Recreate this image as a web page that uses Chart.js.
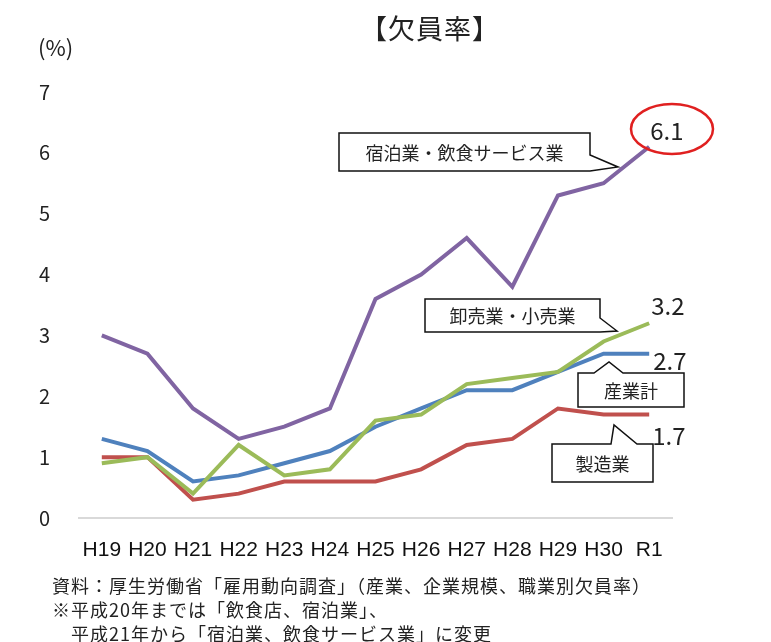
<!DOCTYPE html>
<html>
<head>
<meta charset="utf-8">
<script src="https://cdn.jsdelivr.net/npm/chart.js@4"></script>
<style>
  body { margin: 0; background: #fff; }
  #wrap { position: relative; width: 771px; height: 642px; }
  #c { position: absolute; left: 0; top: 0; }
  .txt { position: absolute; font-family: "Noto Sans CJK JP", sans-serif; color: #222; white-space: nowrap; }
  #title { left: 0; width: 860px; top: 8px; text-align: center; font-size: 27px; letter-spacing: 1px; }
  #unit { left: 38px; top: 30px; font-size: 22px; }
  #note { left: 52px; top: 573px; font-size: 18px; line-height: 24px; letter-spacing: 1px; }
</style>
</head>
<body>
<div id="wrap">
  <canvas id="c" width="771" height="642"></canvas>
  <div class="txt" id="title">【欠員率】</div>
  <div class="txt" id="unit">(%)</div>
  <div class="txt" id="note">資料：厚生労働省「雇用動向調査」（産業、企業規模、職業別欠員率）<br>※平成20年までは「飲食店、宿泊業」、<br>&emsp;平成21年から「宿泊業、飲食サービス業」に変更</div>
</div>
<script>
// 年度
const years = ['H19', 'H20', 'H21', 'H22', 'H23', 'H24', 'H25', 'H26', 'H27', 'H28', 'H29', 'H30', 'R1'];

// 欠員率 (%)
const shukuhaku = [3.0, 2.7, 1.8, 1.3, 1.5, 1.8, 3.6, 4.0, 4.6, 3.8, 5.3, 5.5, 6.1];
const sangyoKei = [1.3, 1.1, 0.6, 0.7, 0.9, 1.1, 1.5, 1.8, 2.1, 2.1, 2.4, 2.7, 2.7];
const oroshiKouri = [0.9, 1.0, 0.4, 1.2, 0.7, 0.8, 1.6, 1.7, 2.2, 2.3, 2.4, 2.9, 3.2];
const seizo = [1.0, 1.0, 0.3, 0.4, 0.6, 0.6, 0.6, 0.8, 1.2, 1.3, 1.8, 1.7, 1.7];

const yTicks = [0, 1, 2, 3, 4, 5, 6, 7];

// 吹き出しを描く
function callout(ctx, box, side, tail, text) {
  const [x0, y0, x1, y1] = box;
  ctx.beginPath();
  ctx.moveTo(x0, y0);
  if (side === 'top') {
    ctx.lineTo(tail[0], y0); ctx.lineTo(tail[1], tail[2]); ctx.lineTo(tail[3], y0);
    ctx.lineTo(x1, y0); ctx.lineTo(x1, y1);
  } else {
    ctx.lineTo(x1, y0);
    ctx.lineTo(x1, tail[0]); ctx.lineTo(tail[1], tail[2]); ctx.lineTo(x1, tail[3]);
    ctx.lineTo(x1, y1);
  }
  ctx.lineTo(x0, y1);
  ctx.closePath();
  ctx.fillStyle = '#fff';
  ctx.fill();
  ctx.strokeStyle = '#111';
  ctx.lineWidth = 1.5;
  ctx.stroke();
  ctx.fillStyle = '#222';
  ctx.font = '18px "Noto Sans CJK JP"';
  ctx.textAlign = 'center';
  ctx.textBaseline = 'middle';
  ctx.fillText(text, (x0 + x1) / 2, (y0 + y1) / 2 + 1);
}

const annotations = {
  id: 'annotations',
  afterDatasetsDraw(chart) {
    const ctx = chart.ctx;
    const xs = chart.scales.x, ys = chart.scales.y;
    const last = years.length - 1;
    const lx = xs.getPixelForValue(last);
    ctx.save();

    callout(ctx, [339, 133, 590, 171], 'right', [155, 618, 167, 171], '宿泊業・飲食サービス業');
    callout(ctx, [425, 299, 600, 332], 'right', [318, 617, 331, 332], '卸売業・小売業');
    callout(ctx, [578, 373, 684, 407], 'top', [594, 609, 362, 623], '産業計');
    callout(ctx, [552, 444, 653, 482], 'top', [611, 614, 425, 637], '製造業');

    ctx.font = '24px "Noto Sans CJK JP"';
    ctx.fillStyle = '#222';
    ctx.textAlign = 'left';
    ctx.textBaseline = 'middle';
    ctx.fillText(shukuhaku[last].toFixed(1), lx + 1, ys.getPixelForValue(shukuhaku[last]) - 16);
    ctx.fillText(oroshiKouri[last].toFixed(1), lx + 2, ys.getPixelForValue(oroshiKouri[last]) - 17);
    ctx.fillText(sangyoKei[last].toFixed(1), lx + 4, ys.getPixelForValue(sangyoKei[last]) + 7);
    ctx.fillText(seizo[last].toFixed(1), lx + 3, ys.getPixelForValue(seizo[last]) + 21);

    // 6.1 を囲む赤丸
    ctx.beginPath();
    ctx.ellipse(672, 129, 41, 25, 0, 0, Math.PI * 2);
    ctx.strokeStyle = '#e02020';
    ctx.lineWidth = 2.5;
    ctx.stroke();

    ctx.restore();
  }
};

const lineStyle = { borderWidth: 4, pointRadius: 0, tension: 0, fill: false };

new Chart(document.getElementById('c'), {
  type: 'line',
  data: {
    labels: years,
    datasets: [
      { label: '宿泊業・飲食サービス業', data: shukuhaku, borderColor: '#8064A2', ...lineStyle },
      { label: '卸売業・小売業', data: oroshiKouri, borderColor: '#9BBB59', ...lineStyle },
      { label: '産業計', data: sangyoKei, borderColor: '#4F81BD', ...lineStyle },
      { label: '製造業', data: seizo, borderColor: '#C0504D', ...lineStyle }
    ]
  },
  options: {
    responsive: false,
    animation: false,
    layout: { padding: { left: 39, right: 99, top: 92, bottom: 0 } },
    plugins: { legend: { display: false }, tooltip: { enabled: false }, title: { display: false } },
    scales: {
      x: {
        offset: true,
        grid: { display: false },
        border: { display: true, color: '#d9d9d9', width: 2 },
        ticks: {
          color: '#111', padding: 12, maxRotation: 0, autoSkip: false,
          font: { family: 'Liberation Sans', size: 21 }
        },
        afterFit: s => { s.height = 124; }
      },
      y: {
        min: 0, max: 7,
        afterBuildTicks: s => { s.ticks = yTicks.map(v => ({ value: v })); },
        grid: { display: false },
        border: { display: false },
        ticks: {
          color: '#222', crossAlign: 'far', padding: 0,
          font: { family: 'Noto Sans CJK JP', size: 20 }
        },
        afterFit: s => { s.width = 40; }
      }
    }
  },
  plugins: [annotations]
});
</script>
</body>
</html>
